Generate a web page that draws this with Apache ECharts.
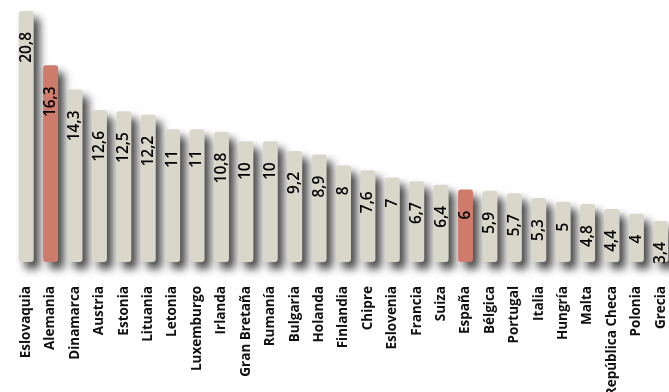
<!DOCTYPE html>
<html>
<head>
<meta charset="utf-8">
<script src="https://cdn.jsdelivr.net/npm/echarts@6/dist/echarts.min.js"></script>
<style>
html,body{margin:0;padding:0;background:#fff;}
#chart{width:669px;height:392px;}
</style>
</head>
<body>
<div id="chart"></div>
<script>
const countries = ["Eslovaquia","Alemania","Dinamarca","Austria","Estonia","Lituania","Letonia","Luxemburgo","Irlanda","Gran Bretaña","Rumanía","Bulgaria","Holanda","Finlandia","Chipre","Eslovenia","Francia","Suiza","España","Bélgica","Portugal","Italia","Hungría","Malta","República Checa","Polonia","Grecia"];
const values = [20.8,16.3,14.3,12.6,12.5,12.2,11,11,10.8,10,10,9.2,8.9,8,7.6,7,6.7,6.4,6,5.9,5.7,5.3,5,4.8,4.4,4,3.4];
const highlighted = ["Alemania","España"];

const GRAY = '#d8d7ca';
const RED = '#cf7b6c';

const chart = echarts.init(document.getElementById('chart'), null, {renderer:'canvas'});
chart.setOption({
  animation:false,
  backgroundColor:'#ffffff',
  grid:{left:14, top:11, width:659, bottom:130, containLabel:false, outerBoundsMode:'none'},
  xAxis:{
    type:'category',
    data:countries,
    axisLine:{show:false},
    axisTick:{show:false},
    axisLabel:{
      rotate:90, interval:0, margin:24,
      fontFamily:'Open Sans', fontWeight:700, fontSize:13.5, color:'#111'
    }
  },
  yAxis:{
    type:'value', min:0, max:'dataMax',
    show:false,
    splitLine:{show:false}
  },
  series:[{
    type:'bar',
    barWidth:15,
    data:values.map((v,i)=>({
      value:v,
      itemStyle:{color: highlighted.includes(countries[i]) ? RED : GRAY}
    })),
    itemStyle:{
      borderRadius:3,
      shadowColor:'rgba(0,0,0,0.72)',
      shadowBlur:9,
      shadowOffsetX:6,
      shadowOffsetY:7
    },
    label:{
      show:true,
      position:'insideTop',
      distance:21,
      rotate:90,
      align:'right',
      verticalAlign:'middle',
      fontFamily:'Open Sans',
      fontWeight:600,
      fontSize:15.5,
      color:'#000',
      formatter:p=>String(p.value).replace('.',',')
    }
  }]
});
</script>
</body>
</html>
